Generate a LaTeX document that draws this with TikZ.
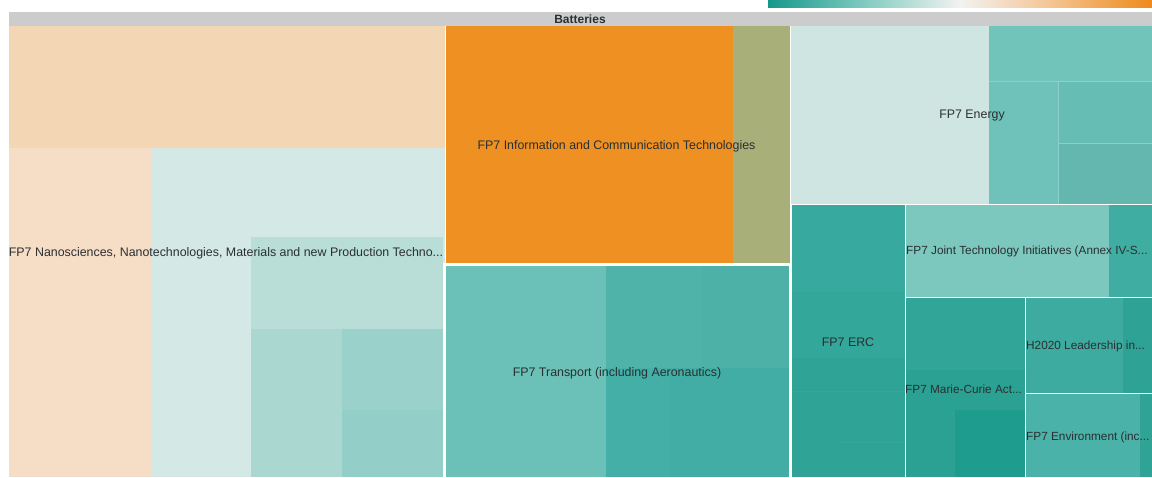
\documentclass[tikz,border=0pt]{standalone}
\usepackage{fontspec}
\setmainfont{Liberation Sans}
\definecolor{gA}{HTML}{14988A}
\definecolor{gB}{HTML}{8DD0C6}
\definecolor{gC}{HTML}{F2F2F0}
\definecolor{gD}{HTML}{F4C89A}
\definecolor{gE}{HTML}{EE8A1A}
\pgfdeclarehorizontalshading{legendgrad}{100bp}{color(0bp)=(gA); color(25bp)=(gA); color(39bp)=(gB); color(50bp)=(gC); color(61bp)=(gD); color(75bp)=(gE); color(100bp)=(gE)}
\definecolor{hdr}{HTML}{CCCCCC}
\definecolor{txt}{HTML}{2A2F31}
\definecolor{peachT}{HTML}{F3D7B4}
\definecolor{peachL}{HTML}{F6DDC6}
\definecolor{tealPale}{HTML}{D4E8E5}
\definecolor{tealB}{HTML}{B9DED8}
\definecolor{tealC}{HTML}{AAD8D1}
\definecolor{tealD}{HTML}{9AD2CB}
\definecolor{tealE}{HTML}{93CFC8}
\definecolor{ictOrange}{HTML}{EE9022}
\definecolor{olive}{HTML}{A9AF79}
\definecolor{trL}{HTML}{6BC1B7}
\definecolor{trRU}{HTML}{50B3AA}
\definecolor{trRU2}{HTML}{4DB1A8}
\definecolor{trRL}{HTML}{44AFA6}
\definecolor{trRL2}{HTML}{41ADA4}
\definecolor{enL}{HTML}{CEE5E1}
\definecolor{enT}{HTML}{71C4BA}
\definecolor{enM}{HTML}{6FC2B9}
\definecolor{enR}{HTML}{66BDB4}
\definecolor{erc}{HTML}{38A99E}
\definecolor{erc2}{HTML}{34A79B}
\definecolor{erc3}{HTML}{2FA396}
\definecolor{jti}{HTML}{7CC7BE}
\definecolor{jtiR}{HTML}{40ADA3}
\definecolor{mcU}{HTML}{31A597}
\definecolor{mcL}{HTML}{2AA193}
\definecolor{mcD}{HTML}{1E9C8E}
\definecolor{hz}{HTML}{3EABA1}
\definecolor{hzR}{HTML}{2EA295}
\definecolor{env}{HTML}{4AB2A8}
\definecolor{envR}{HTML}{2FA396}
\begin{document}
\begin{tikzpicture}[x=1pt,y=-1pt,
  lbl/.style={text=txt,font=\fontsize{12.4}{14}\selectfont,inner sep=0pt},
  slbl/.style={text=txt,font=\fontsize{11.8}{14}\selectfont,inner sep=0pt,anchor=west},
  sep/.style={draw=white,line width=1pt},
  thick sep/.style={draw=white,line width=3pt}]
\useasboundingbox (0,0) rectangle (1152,477);
\fill[white] (0,0) rectangle (1152,477);
% legend
\shade[shading=legendgrad] (768,0) rectangle (1152,7);
% header
\fill[hdr] (9,12) rectangle (1152,26);
\node[text=txt,font=\bfseries\fontsize{12}{13}\selectfont,inner sep=0pt] (hdrlbl) at (580,19) {Batteries};
% Nanosciences block
\fill[peachT] (9,26) rectangle (445,148);
\fill[peachL] (9,148) rectangle (152,477);
\fill[tealPale] (152,148) rectangle (445,477);
\fill[tealB] (251,237) rectangle (443,329);
\fill[tealC] (251,329) rectangle (342,477);
\fill[tealD] (342,329) rectangle (443,410);
\fill[tealE] (342,410) rectangle (443,477);
% ICT block
\fill[ictOrange] (445,26) rectangle (733,263);
\fill[olive] (733,26) rectangle (790,263);
% Transport block
\fill[trL] (445,264) rectangle (606,477);
\fill[trRU] (606,264) rectangle (702,368);
\fill[trRU2] (702,264) rectangle (790,368);
\fill[trRL] (606,368) rectangle (670,477);
\fill[trRL2] (670,368) rectangle (790,477);
\draw[thick sep] (444,264.5) rectangle (790.5,480);
% Energy block
\fill[enL] (790,26) rectangle (988,204);
\fill[enT] (988,26) rectangle (1152,81);
\fill[enM] (988,81) rectangle (1058,204);
\fill[enR] (1058,81) rectangle (1152,143);
\fill[enR!97!black] (1058,143) rectangle (1152,204);
\draw[draw=enT!80!white,line width=0.6pt] (988,81) -- (1152,81) (1058,81) -- (1058,204) (1058,143) -- (1152,143);
\draw[draw=enL,line width=0.8pt] (988,26) -- (988,204);
% ERC block
\fill[erc] (792,205) rectangle (905,292);
\fill[erc2] (792,292) rectangle (905,358);
\fill[erc3] (792,358) rectangle (905,477);
\draw[draw=erc2,line width=0.5pt] (792,391) -- (905,391) (837,442) -- (905,442);
% Joint Technology Initiatives
\fill[jti] (905,205) rectangle (1109,297);
\fill[jtiR] (1109,205) rectangle (1152,297);
% Marie-Curie
\fill[mcU] (905,297) rectangle (1025,370);
\fill[mcL] (905,370) rectangle (1025,477);
\fill[mcD] (955,410) rectangle (1025,477);
% H2020 Leadership
\fill[hz] (1025,297) rectangle (1123,393);
\fill[hzR] (1123,297) rectangle (1152,393);
% Environment
\fill[env] (1025,393) rectangle (1140,477);
\fill[envR] (1140,393) rectangle (1152,477);
% separators
\draw[sep] (445,26) -- (445,263);
\draw[sep] (790,26) -- (790,263);
\draw[sep] (791,204.5) -- (1152,204.5);
\draw[sep] (905,205) -- (905,477);
\draw[sep] (905,297) -- (1152,297);
\draw[sep] (1025,297) -- (1025,477);
\draw[sep] (1025,393) -- (1152,393);
% labels
\node[lbl] (nano) at (226,253) {FP7 Nanosciences, Nanotechnologies, Materials and new Production Techno...};
\node[lbl] (ict) at (616.5,146) {FP7 Information and Communication Technologies};
\node[lbl] (transport) at (617,373) {FP7 Transport (including Aeronautics)};
\node[lbl] (energy) at (972,116) {FP7 Energy};
\node[lbl] (ercl) at (848,342) {FP7 ERC};
\node[slbl] (jtil) at (906,251) {FP7 Joint Technology Initiatives (Annex IV-S...};
\node[slbl] (mcl) at (905,389) {FP7 Marie-Curie Act...};
\node[slbl] (hzl) at (1026,346) {H2020 Leadership in...};
\node[slbl] (envl) at (1026,437) {FP7 Environment (inc...};
\end{tikzpicture}
\end{document}
